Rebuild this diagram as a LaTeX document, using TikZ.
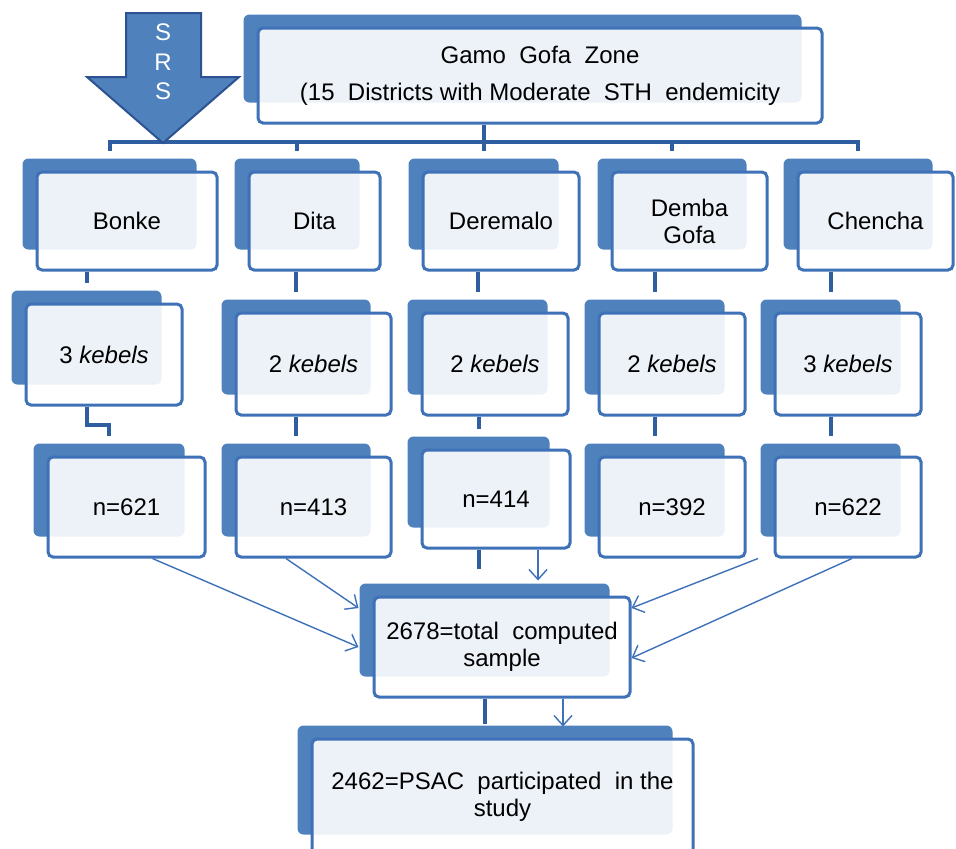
\documentclass[tikz,border=0pt]{standalone}
\usepackage{fontspec}
\setmainfont{Liberation Sans}
\usetikzlibrary{arrows.meta,backgrounds}
\definecolor{boxblue}{RGB}{79,129,189}
\definecolor{edgeblue}{RGB}{62,113,183}
\definecolor{linkblue}{RGB}{46,94,160}
\definecolor{arrowedge}{RGB}{44,82,145}

\begin{document}
\begin{tikzpicture}[x=0.5pt, y=-0.5pt,
		every node/.style={font=\fontsize{12}{13.5}\selectfont, align=center},
		size/.style 2 args={minimum width=#1*0.5pt, minimum height=#2*0.5pt},
		card/.style={draw=edgeblue, line width=1.5pt, fill=white, fill opacity=0.9, text opacity=1, rounded corners=2.5pt, inner sep=0pt},
		backcard/.style={fill=boxblue, rounded corners=3pt},
		link/.style={draw=linkblue, line width=2pt},
		feed/.style={draw=edgeblue, line width=0.7pt, -{Straight Barb[length=5pt,width=9pt]}}
	]
	\useasboundingbox (0,0) rectangle (956,848);

	\filldraw[fill=boxblue, draw=arrowedge, line width=1pt]
		(126,13) -- (201,13) -- (201,77) -- (239,77) -- (163,143) -- (87,77) -- (126,77) -- cycle;
	\node[text=white, font=\fontsize{12}{14.75}\selectfont] (srs) at (163,62) {S\\R\\S};

	\node[card, size={564}{95}, font=\fontsize{12}{18.5}\selectfont] (zone) at (540,75.5) {Gamo\ \ Gofa\ \ Zone\\(15\ \ Districts with Moderate\ \ STH\ \ endemicity};

	\node[card, size={180}{98}] (bonke) at (127,221) {Bonke};
	\node[card, size={131}{98}] (dita) at (314.5,221) {Dita};
	\node[card, size={156}{98}] (deremalo) at (501,221) {Deremalo};
	\node[card, size={155}{98}] (demba) at (689.5,221) {Demba\\Gofa};
	\node[card, size={155}{98}] (chencha) at (875.5,221) {Chencha};

	\node[card, size={156}{101}] (kbonke) at (104,354.5) {3 \textit{kebels}};
	\node[card, size={155}{102}] (kdita) at (313.5,364) {2 \textit{kebels}};
	\node[card, size={146}{102}] (kderemalo) at (495,364) {2 \textit{kebels}};
	\node[card, size={146}{102}] (kdemba) at (672,364) {2 \textit{kebels}};
	\node[card, size={146}{102}] (kchencha) at (848,364) {3 \textit{kebels}};

	\node[card, size={157}{100}] (nbonke) at (126.5,507) {n=621};
	\node[card, size={155}{100}] (ndita) at (313.5,507) {n=413};
	\node[card, size={148}{98}] (nderemalo) at (496,499) {n=414};
	\node[card, size={146}{100}] (ndemba) at (672,507) {n=392};
	\node[card, size={146}{100}] (nchencha) at (848,507) {n=622};

	\node[card, size={256}{100}] (total) at (502,647) {2678=total\ \ computed\\sample};
	\node[card, size={381}{116}] (final) at (502.5,797) {2462=PSAC\ \ participated\ \ in the\\study};

	\foreach \b in {bonke,dita,deremalo,demba,chencha,kbonke,kdita,kderemalo,kdemba,kchencha,nbonke,ndita,nderemalo,ndemba,nchencha}
		\coordinate (\b-in) at ([xshift=-8.75pt,yshift=10pt]\b.north);
	\coordinate (bar) at (0,142);

	\begin{scope}[on background layer]
		\draw[link] (bonke-in) |- (chencha-in |- bar) -- (chencha-in);
		\foreach \d in {dita,deremalo,demba}
			\draw[link] (\d-in) -- (\d-in |- bar);
		\draw[link] (deremalo-in |- zone.south) -- (deremalo-in |- bar);
		\foreach \d/\k in {bonke/kbonke,dita/kdita,deremalo/kderemalo,demba/kdemba,chencha/kchencha}
			\draw[link] (\k-in |- \d.south) -- (\k-in);
		\draw[link] (kbonke-in |- kbonke.south) -- ++(0,18) -| (nbonke-in);
		\foreach \k/\n in {kdita/ndita,kderemalo/nderemalo,kdemba/ndemba,kchencha/nchencha}
			\draw[link] (\n-in |- \k.south) -- (\n-in);
		\draw[link] ([xshift=-8.75pt]nderemalo.south) -- ++(0,19);
		\draw[link] ([xshift=-8.75pt]total.south) -- ++(0,25);

		\foreach \b in {zone,bonke,dita,deremalo,demba,chencha,kbonke,kdita,kderemalo,kdemba,kchencha,nbonke,ndita,nderemalo,ndemba,nchencha,total,final}
			\fill[backcard] ([shift={(-13,-12)}]\b.north west) rectangle ([shift={(-22,-22)}]\b.south east);
	\end{scope}

	\draw[feed] ([xshift=13pt]nbonke.south) -- ([xshift=-7pt]total.west);
	\draw[feed] ([xshift=-13.75pt]ndita.south) -- ([xshift=-7pt,yshift=19.5pt]total.west);
	\draw[feed] ([xshift=21pt]nderemalo.south) -- ([xshift=18pt,yshift=7.5pt]total.north);
	\draw[feed] ([xshift=43pt]ndemba.south) -- ([yshift=19.5pt]total.east);
	\draw[feed] ([xshift=2pt]nchencha.south) -- ([yshift=-5.5pt]total.east);
	\draw[feed] ([xshift=30.5pt]total.south) -- ++(0,28);
\end{tikzpicture}
\end{document}
